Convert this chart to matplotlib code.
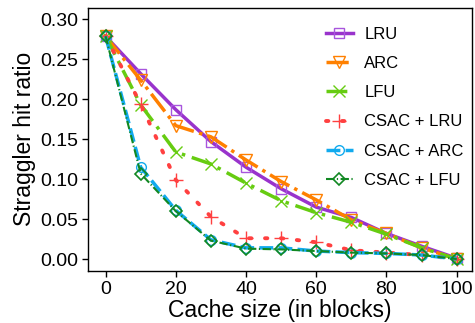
import matplotlib
matplotlib.use("Agg")
import matplotlib.pyplot as plt

plt.rcParams['font.family'] = ['Liberation Sans', 'DejaVu Sans']

cache_size = [0, 10, 20, 30, 40, 50, 60, 70, 80, 90, 100]

lru = [0.279, 0.232, 0.187, 0.147, 0.115, 0.088, 0.065, 0.052, 0.032, 0.016, 0.001]
arc = [0.279, 0.224, 0.167, 0.153, 0.124, 0.097, 0.074, 0.049, 0.032, 0.014, 0.0]
lfu = [0.279, 0.193, 0.134, 0.119, 0.095, 0.073, 0.058, 0.046, 0.031, 0.014, 0.0]
csac_lru = [0.279, 0.194, 0.099, 0.053, 0.026, 0.026, 0.021, 0.011, 0.008, 0.005, 0.0]
csac_arc = [0.279, 0.115, 0.061, 0.024, 0.014, 0.014, 0.010, 0.008, 0.007, 0.005, 0.0]
csac_lfu = [0.279, 0.107, 0.060, 0.023, 0.013, 0.012, 0.010, 0.008, 0.007, 0.005, 0.0]

labels = ['LRU', 'ARC', 'LFU', 'CSAC + LRU', 'CSAC + ARC', 'CSAC + LFU']

fig = plt.figure(figsize=(4.75, 3.23), dpi=100)
ax = fig.add_axes([0.186, 0.162, 0.808, 0.813])

ax.plot(cache_size, lru, color='#9933CC', ls='-', lw=2.5, marker='s', ms=7,
        mfc='none', mec='#A855DD', mew=1.0, label=labels[0])
ax.plot(cache_size, arc, color='#FF8000', ls='-.', lw=2.5, marker='v', ms=8,
        mfc='none', mew=1.0, label=labels[1])
ax.plot(cache_size, lfu, color='#66CC11', ls=(0, (6, 2, 1, 2)), lw=2.5, marker='x', ms=8,
        mew=1.0, label=labels[2])
ax.plot(cache_size, csac_lru, color='#FF4040', ls=(0, (0.6, 3.5)), lw=2.8, marker='+', ms=10,
        mew=1.0, label=labels[3], dash_capstyle='round')
ax.plot(cache_size, csac_arc, color='#11AAEE', ls=(0, (4, 1.5)), lw=2.5, marker='o', ms=7,
        mfc='none', mew=1.0, label=labels[4])
ax.plot(cache_size, csac_lfu, color='#118822', ls=(0, (4, 1.2, 0.6, 1.2)), lw=1.5, marker='D', ms=6.5,
        mfc='none', mew=1.2, label=labels[5])

ax.set_xlim(-4.9, 104.4)
ax.set_ylim(-0.0146, 0.3142)
ax.set_xticks([0, 20, 40, 60, 80, 100])
ax.set_yticks([0.0, 0.05, 0.10, 0.15, 0.20, 0.25, 0.30])
ax.set_yticklabels(['0.00', '0.05', '0.10', '0.15', '0.20', '0.25', '0.30'])
ax.tick_params(labelsize=14, length=4, width=1, colors='black')
for s in ax.spines.values():
    s.set_linewidth(1.0)

ax.set_xlabel('Cache size (in blocks)', fontsize=16.5, labelpad=1)
ax.set_ylabel('Straggler hit ratio', fontsize=16.5, labelpad=3)

ax.legend(loc='upper right', bbox_to_anchor=(1.0, 0.96), frameon=False, fontsize=12,
          handlelength=1.6, labelspacing=0.85, handletextpad=0.7, borderaxespad=0.1)

fig.savefig('out.png', dpi=100)
